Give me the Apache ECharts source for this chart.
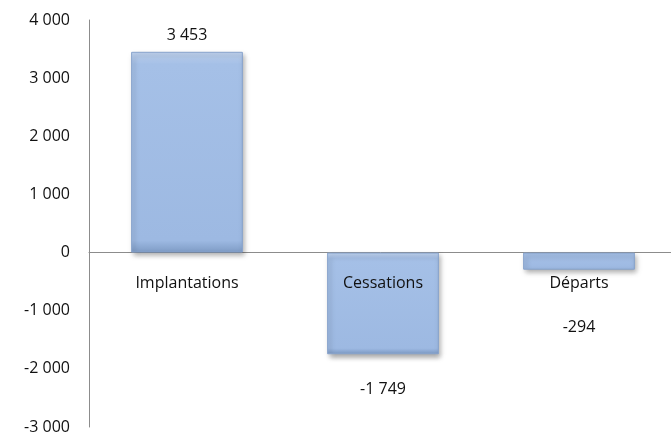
<!DOCTYPE html>
<html>
<head>
<meta charset="utf-8">
<script src="https://cdn.jsdelivr.net/npm/echarts@6/dist/echarts.min.js"></script>
<style>
  html, body { margin: 0; padding: 0; background: #fff; overflow: hidden; }
  #chart { width: 671px; height: 432px; }
</style>
</head>
<body>
<div id="chart"></div>
<script>
const categories = ['Implantations', 'Cessations', 'Départs'];
const values = [3453, -1749, -294];
const yTicks = { min: -3000, max: 4000, interval: 1000 };
// extra downward shift of the value labels (Excel placed them well below the bars)
const labelShift = [0, 19, 42];

const fmt = v => {
  const s = Math.abs(v).toString().replace(/\B(?=(\d{3})+(?!\d))/g, ' ');
  return (v < 0 ? '-' : '') + s;
};

const FONT = 'Open Sans';
const TXT = '#111';

const chart = echarts.init(document.getElementById('chart'));
chart.setOption({
  animation: false,
  grid: { left: 89, right: -6, top: 20, bottom: 5, containLabel: false, outerBoundsMode: 'none' },
  xAxis: {
    type: 'category',
    data: categories,
    axisLine: { onZero: true, lineStyle: { color: '#8c8c8c', width: 1 } },
    axisTick: { show: false },
    axisLabel: { show: false }
  },
  yAxis: {
    type: 'value',
    min: yTicks.min,
    max: yTicks.max,
    interval: yTicks.interval,
    axisLine: { show: true, lineStyle: { color: '#8c8c8c', width: 1 } },
    axisTick: { show: false },
    splitLine: { show: false },
    axisLabel: { color: TXT, fontSize: 16, fontFamily: FONT, margin: 19, formatter: fmt }
  },
  series: [{
    type: 'bar',
    barWidth: '57%',
    data: values.map((v, i) => ({
      value: v,
      label: {
        show: true,
        position: v >= 0 ? 'top' : 'bottom',
        offset: [0, labelShift[i]],
        distance: 8
      }
    })),
    label: { color: TXT, fontSize: 16, fontFamily: FONT, formatter: p => fmt(p.value) },
    itemStyle: {
      color: {
        type: 'linear', x: 0, y: 0, x2: 0, y2: 1,
        colorStops: [
          { offset: 0, color: '#c2d5f1' },
          { offset: 0.06, color: '#a5c0e7' },
          { offset: 0.94, color: '#9db9e2' },
          { offset: 1, color: '#7e9bc5' }
        ]
      },
      borderColor: '#87a3cc',
      borderWidth: 1,
      shadowColor: 'rgba(0,0,0,0.35)',
      shadowBlur: 5,
      shadowOffsetX: 2,
      shadowOffsetY: 3
    }
  }, {
    // category names sit just under the zero line, over the bars
    type: 'scatter',
    z: 10,
    symbolSize: 0,
    silent: true,
    itemStyle: { opacity: 1 },
    data: categories.map(c => [c, 0]),
    label: {
      show: true,
      position: 'bottom',
      distance: 23,
      color: TXT,
      fontSize: 16,
      fontFamily: FONT,
      formatter: p => p.value[0]
    }
  }]
});
</script>
</body>
</html>
